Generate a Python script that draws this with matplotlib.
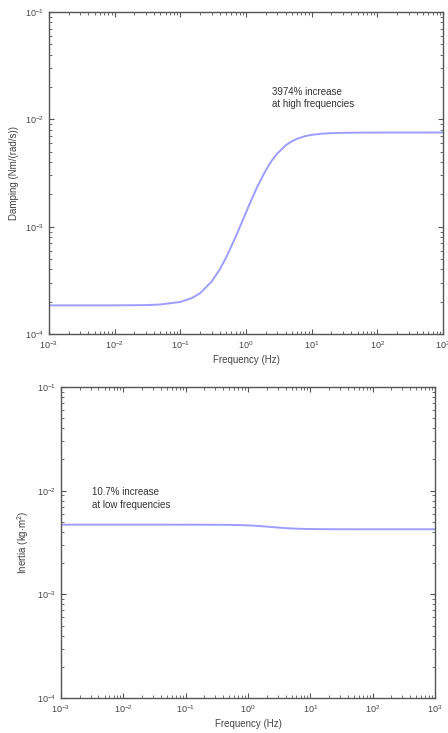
import matplotlib
matplotlib.use("Agg")
import matplotlib.pyplot as plt
from matplotlib.ticker import LogLocator, NullFormatter, FixedLocator, FixedFormatter

plt.rcParams['font.family'] = ['Liberation Sans', 'DejaVu Sans']
plt.rcParams['mathtext.fontset'] = 'custom'
plt.rcParams['mathtext.rm'] = 'Liberation Sans'
plt.rcParams['mathtext.it'] = 'Liberation Sans:italic'

# Frequency samples (Hz)
freq = [0.001, 0.01, 0.03, 0.05, 0.1, 0.15, 0.2, 0.3, 0.4, 0.5, 0.7, 0.85, 1.0,
        1.2, 1.5, 2.0, 2.5, 3.0, 4.0, 5.0, 6.0, 8.0, 10, 15, 20, 30, 50, 100, 1000]
# Damping (Nm/(rad/s))
damping = [1.85e-4, 1.85e-4, 1.86e-4, 1.885e-4, 1.99e-4, 2.16e-4, 2.40e-4,
           3.08e-4, 4.00e-4, 5.17e-4, 8.08e-4, 1.069e-3, 1.354e-3, 1.758e-3,
           2.38e-3, 3.35e-3, 4.17e-3, 4.81e-3, 5.71e-3, 6.25e-3, 6.60e-3,
           6.98e-3, 7.17e-3, 7.37e-3, 7.44e-3, 7.49e-3, 7.52e-3, 7.535e-3, 7.54e-3]
# Inertia (kg m^2)
inertia = [4.70e-3, 4.70e-3, 4.70e-3, 4.70e-3, 4.699e-3, 4.697e-3, 4.696e-3,
           4.692e-3, 4.686e-3, 4.680e-3, 4.662e-3, 4.645e-3, 4.628e-3, 4.603e-3,
           4.564e-3, 4.504e-3, 4.454e-3, 4.413e-3, 4.358e-3, 4.324e-3, 4.303e-3,
           4.280e-3, 4.268e-3, 4.257e-3, 4.251e-3, 4.248e-3, 4.246e-3, 4.245e-3, 4.245e-3]

x_ticks = [1e-3, 1e-2, 1e-1, 1e0, 1e1, 1e2, 1e3]
x_labels = ['$10^{-3}$', '$10^{-2}$', '$10^{-1}$', '$10^{0}$', '$10^{1}$', '$10^{2}$', '$10^{3}$']
y_ticks = [1e-4, 1e-3, 1e-2, 1e-1]
y_labels = ['$10^{-4}$', '$10^{-3}$', '$10^{-2}$', '$10^{-1}$']

line_color = '#9d9dff'
spine_color = '#555555'

fig = plt.figure(figsize=(4.48, 7.33), dpi=100)
ax1 = fig.add_axes([0.109, 0.5443, 0.880, 0.4393])
ax2 = fig.add_axes([0.136, 0.0477, 0.835, 0.4243])


def style(ax):
    ax.set_xscale('log')
    ax.set_yscale('log')
    ax.set_xlim(1e-3, 1e3)
    ax.set_ylim(1e-4, 1e-1)
    ax.xaxis.set_major_locator(FixedLocator(x_ticks))
    ax.xaxis.set_major_formatter(FixedFormatter(x_labels))
    ax.yaxis.set_major_locator(FixedLocator(y_ticks))
    ax.yaxis.set_major_formatter(FixedFormatter(y_labels))
    ax.xaxis.set_minor_locator(LogLocator(base=10, subs=range(2, 10), numticks=100))
    ax.yaxis.set_minor_locator(LogLocator(base=10, subs=range(2, 10), numticks=100))
    ax.xaxis.set_minor_formatter(NullFormatter())
    ax.yaxis.set_minor_formatter(NullFormatter())
    ax.tick_params(which='both', direction='in', top=True, right=True,
                   colors=spine_color, labelcolor='#444444', labelsize=6.5)
    ax.tick_params(which='major', length=3.5, width=0.8)
    ax.tick_params(which='minor', length=2, width=0.6)
    for s in ax.spines.values():
        s.set_color(spine_color)
        s.set_linewidth(1.0)
    ax.set_xlabel('Frequency (Hz)', fontsize=7, color='#444444', labelpad=3)


style(ax1)
ax1.plot(freq, damping, color=line_color, lw=1.4)
ax1.set_ylabel('Damping (Nm/(rad/s))', fontsize=7, color='#444444', labelpad=4)
ax1.text(0.566, 0.767, '3974% increase\nat high frequencies', transform=ax1.transAxes,
         ha='left', va='top', fontsize=7, color='#333333', linespacing=1.3)

style(ax2)
ax2.plot(freq, inertia, color=line_color, lw=1.4)
ax2.set_ylabel(r'Inertia (kg$\cdot$m$^2$)', fontsize=7, color='#444444', labelpad=4)
ax2.text(0.083, 0.678, '10.7% increase\nat low frequencies', transform=ax2.transAxes,
         ha='left', va='top', fontsize=7, color='#333333', linespacing=1.3)

fig.savefig('out.png', dpi=100)
